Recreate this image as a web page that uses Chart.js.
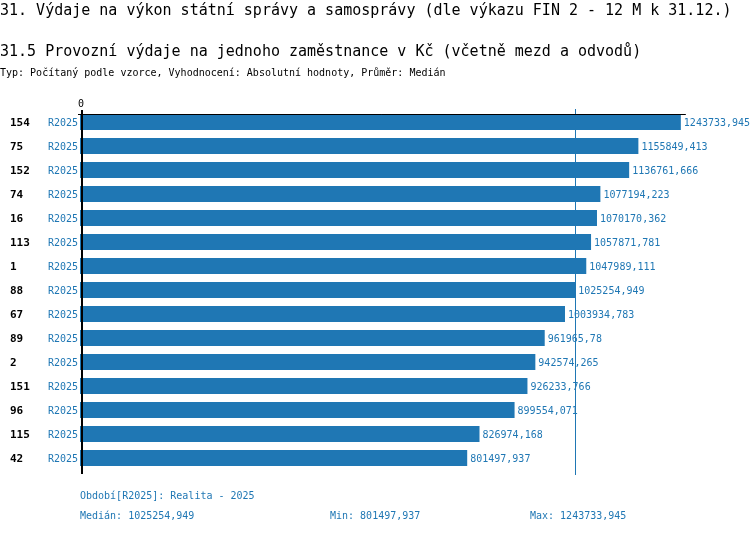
<!DOCTYPE html>
<html>
<head>
<meta charset="utf-8">
<script src="https://cdn.jsdelivr.net/npm/chart.js@4.4.1/dist/chart.umd.min.js"></script>
<style>
  body { margin: 0; background: #fff; font-family: "DejaVu Sans Mono", monospace; }
  #wrap { position: relative; width: 750px; height: 534px; overflow: hidden; }
  #chart { position: absolute; left: 0; top: 0; }
  .txt { position: absolute; white-space: pre; line-height: 1; }
  .h1 { font-size: 15px; color: #000; }
  .small { font-size: 10px; color: #000; }
  .blue { font-size: 10px; color: #1f77b4; }
</style>
</head>
<body>
<div id="wrap">
  <canvas id="chart" width="750" height="534"></canvas>
  <div class="txt h1" style="left:0;top:3px">31. Výdaje na výkon státní správy a samosprávy (dle výkazu FIN 2 - 12 M k 31.12.)</div>
  <div class="txt h1" style="left:0;top:44px">31.5 Provozní výdaje na jednoho zaměstnance v Kč (včetně mezd a odvodů)</div>
  <div class="txt small" style="left:0;top:68px">Typ: Počítaný podle vzorce, Vyhodnocení: Absolutní hodnoty, Průměr: Medián</div>
  <div class="txt blue" id="period" style="left:80px;top:491px"></div>
  <div class="txt blue" id="med" style="left:80px;top:511px"></div>
  <div class="txt blue" id="min" style="left:330px;top:511px"></div>
  <div class="txt blue" id="max" style="left:530px;top:511px"></div>
</div>
<script>
// units (ids) and their values for period R2025
const ids = ['154', '75', '152', '74', '16', '113', '1', '88', '67', '89', '2', '151', '96', '115', '42'];
const values = [1243733.945, 1155849.413, 1136761.666, 1077194.223, 1070170.362, 1057871.781,
  1047989.111, 1025254.949, 1003934.783, 961965.78, 942574.265, 926233.766, 899554.071,
  826974.168, 801497.937];
const period = 'R2025';
const periodName = 'Realita - 2025';

const BLUE = '#1f77b4';
const fmt = v => String(v).replace('.', ',');

const sorted = values.slice().sort((a, b) => a - b);
const median = sorted[Math.floor(sorted.length / 2)];
const vMin = sorted[0];
const vMax = sorted[sorted.length - 1];

document.getElementById('period').textContent = 'Období[' + period + ']: ' + periodName;
document.getElementById('med').textContent = 'Medián: ' + fmt(median);
document.getElementById('min').textContent = 'Min: ' + fmt(vMin);
document.getElementById('max').textContent = 'Max: ' + fmt(vMax);

const decor = {
  id: 'decor',
  beforeDatasetsDraw(chart) {
    const {ctx, chartArea: a, scales: {x}} = chart;
    const mx = Math.round(x.getPixelForValue(median)) + 0.5;
    ctx.save();
    ctx.strokeStyle = BLUE;
    ctx.lineWidth = 1;
    ctx.beginPath();
    ctx.moveTo(mx, a.top - 1);
    ctx.lineTo(mx, a.bottom + 5);
    ctx.stroke();
    ctx.restore();
  },
  afterDatasetsDraw(chart) {
    const {ctx, chartArea: a, scales: {x, y}} = chart;
    const x0 = x.getPixelForValue(0);
    ctx.save();
    // axes
    ctx.strokeStyle = '#000';
    ctx.lineWidth = 1;
    ctx.beginPath();
    ctx.moveTo(x0 - 2, a.top + 4.5);
    ctx.lineTo(x.getPixelForValue(vMax) + 5, a.top + 4.5);
    ctx.stroke();
    ctx.lineWidth = 2;
    ctx.beginPath();
    ctx.moveTo(x0 + 2, a.top);
    ctx.lineTo(x0 + 2, a.bottom + 4);
    ctx.stroke();

    ctx.textBaseline = 'middle';
    ctx.font = '10px "DejaVu Sans Mono"';
    ctx.fillStyle = '#000';
    ctx.textAlign = 'center';
    ctx.fillText('0', x0 + 1, a.top - 6);

    ids.forEach((id, i) => {
      const yc = y.getPixelForValue(i);
      ctx.font = 'bold 11px "DejaVu Sans Mono"';
      ctx.fillStyle = '#000';
      ctx.textAlign = 'left';
      ctx.fillText(id, 10, yc + 1);
      ctx.font = '10px "DejaVu Sans Mono"';
      ctx.fillStyle = BLUE;
      ctx.textAlign = 'right';
      ctx.fillText(period, x0 - 2, yc + 1);
      ctx.textAlign = 'left';
      ctx.fillText(fmt(values[i]), x.getPixelForValue(values[i]) + 3, yc + 1);
    });
    ctx.restore();
  }
};

new Chart(document.getElementById('chart'), {
  type: 'bar',
  data: {
    labels: ids,
    datasets: [{
      data: values,
      backgroundColor: BLUE,
      borderWidth: 0,
      categoryPercentage: 1,
      barPercentage: 0.667
    }]
  },
  options: {
    indexAxis: 'y',
    responsive: false,
    animation: false,
    layout: { padding: { left: 80, top: 110, right: 0, bottom: 64 } },
    plugins: { legend: { display: false }, tooltip: { enabled: false } },
    scales: {
      x: { display: false, min: 0, max: 1386900 },
      y: { display: false }
    }
  },
  plugins: [decor]
});
</script>
</body>
</html>
